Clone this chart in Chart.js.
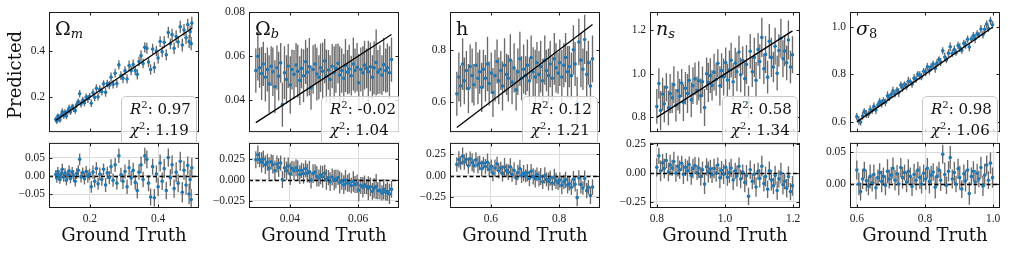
<!DOCTYPE html>
<html>
<head>
<meta charset="utf-8">
<script src="https://cdn.jsdelivr.net/npm/chart.js@4.4.1/dist/chart.umd.min.js"></script>
<style>
  body { margin: 0; background: #fff; }
  #wrap { position: relative; width: 1011px; height: 253px; overflow: hidden; font-family: "DejaVu Serif", serif; color: #111; }
  canvas { position: absolute; }
  .ttl { position: absolute; top: 19px; font-size: 19px; line-height: 19px; white-space: nowrap; }
  .ttl sub { font-size: 13px; vertical-align: -3px; line-height: 0; }
  .gt { position: absolute; top: 226px; width: 150px; text-align: center; font-size: 18px; line-height: 18px; white-space: nowrap; }
  .clip { position: absolute; top: 12px; width: 150px; height: 130px; overflow: hidden; }
  .stats { position: absolute; left: 72px; top: 84px; padding: 2px 5px 14px 8px; border: 1px solid #c8c8c8; border-radius: 5px; background: rgba(255,255,255,0.8); font-size: 15px; line-height: 21px; white-space: nowrap; }
  .stats sup { font-size: 10px; vertical-align: 6px; line-height: 0; }
  #ylab { position: absolute; left: -45px; top: 66px; width: 120px; text-align: center; font-size: 18px; line-height: 18px; transform: rotate(-90deg); }
</style>
</head>
<body>
<div id="wrap"></div>
<script>
// Omega_m
let omTruth = [0.100,0.103,0.106,0.109,0.112,0.116,0.119,0.123,0.127,0.131,
  0.135,0.139,0.143,0.148,0.152,0.157,0.161,0.166,0.170,0.174,
  0.179,0.184,0.189,0.194,0.199,0.204,0.209,0.214,0.219,0.224,
  0.229,0.235,0.240,0.246,0.251,0.257,0.262,0.268,0.274,0.279,
  0.285,0.291,0.297,0.303,0.309,0.315,0.321,0.327,0.333,0.339,
  0.344,0.350,0.356,0.361,0.367,0.372,0.378,0.384,0.389,0.395,
  0.400,0.406,0.412,0.418,0.424,0.430,0.436,0.441,0.447,0.453,
  0.459,0.465,0.471,0.476,0.482,0.487,0.491,0.494,0.497,0.499];
let omPred = [0.104,0.097,0.118,0.110,0.102,0.122,0.137,0.119,0.135,0.119,
  0.138,0.153,0.136,0.158,0.152,0.142,0.167,0.181,0.215,0.171,
  0.188,0.176,0.201,0.192,0.203,0.174,0.219,0.199,0.239,0.202,
  0.234,0.225,0.258,0.221,0.259,0.252,0.287,0.256,0.304,0.259,
  0.340,0.294,0.282,0.315,0.279,0.337,0.315,0.342,0.315,0.299,
  0.354,0.380,0.346,0.416,0.412,0.352,0.320,0.409,0.329,0.400,
  0.370,0.441,0.397,0.438,0.384,0.480,0.431,0.471,0.412,0.463,
  0.439,0.505,0.426,0.491,0.457,0.515,0.441,0.484,0.432,0.521];
let omErr = [0.012,0.013,0.012,0.014,0.012,0.013,0.015,0.012,0.013,0.014,
  0.013,0.015,0.013,0.014,0.016,0.014,0.015,0.014,0.016,0.015,
  0.014,0.016,0.015,0.017,0.015,0.016,0.018,0.016,0.017,0.016,
  0.018,0.017,0.016,0.019,0.017,0.018,0.020,0.018,0.019,0.018,
  0.020,0.019,0.021,0.019,0.020,0.022,0.020,0.021,0.020,0.022,
  0.021,0.023,0.021,0.022,0.024,0.022,0.023,0.022,0.024,0.023,
  0.025,0.023,0.024,0.026,0.024,0.025,0.023,0.026,0.025,0.027,
  0.025,0.026,0.028,0.026,0.027,0.025,0.028,0.027,0.029,0.027];

// Omega_b
let obTruth = [0.0300,0.0306,0.0311,0.0317,0.0322,0.0328,0.0334,0.0339,0.0345,0.0350,
  0.0356,0.0362,0.0367,0.0373,0.0378,0.0384,0.0390,0.0395,0.0401,0.0406,
  0.0412,0.0418,0.0423,0.0429,0.0434,0.0440,0.0446,0.0451,0.0457,0.0462,
  0.0468,0.0474,0.0479,0.0485,0.0490,0.0496,0.0502,0.0507,0.0513,0.0518,
  0.0524,0.0530,0.0535,0.0541,0.0546,0.0552,0.0558,0.0563,0.0569,0.0574,
  0.0580,0.0586,0.0591,0.0597,0.0602,0.0608,0.0614,0.0619,0.0625,0.0630,
  0.0636,0.0642,0.0647,0.0653,0.0658,0.0664,0.0670,0.0675,0.0681,0.0686,
  0.0692,0.0698];
let obPred = [0.0535,0.0600,0.0548,0.0522,0.0565,0.0505,0.0540,0.0475,0.0555,0.0530,
  0.0462,0.0548,0.0510,0.0570,0.0381,0.0525,0.0495,0.0556,0.0470,0.0540,
  0.0518,0.0560,0.0532,0.0490,0.0545,0.0512,0.0575,0.0528,0.0552,0.0458,
  0.0540,0.0565,0.0520,0.0505,0.0548,0.0532,0.0578,0.0510,0.0538,0.0495,
  0.0555,0.0525,0.0545,0.0568,0.0515,0.0535,0.0500,0.0558,0.0528,0.0542,
  0.0512,0.0565,0.0535,0.0550,0.0480,0.0540,0.0525,0.0560,0.0545,0.0530,
  0.0552,0.0505,0.0548,0.0572,0.0528,0.0540,0.0515,0.0562,0.0535,0.0548,
  0.0525,0.0585];
let obErr = [0.010,0.011,0.009,0.012,0.010,0.011,0.010,0.013,0.009,0.011,
  0.012,0.010,0.011,0.009,0.010,0.012,0.011,0.010,0.013,0.009,
  0.011,0.010,0.012,0.011,0.009,0.012,0.010,0.011,0.013,0.010,
  0.011,0.009,0.012,0.010,0.011,0.013,0.010,0.012,0.009,0.011,
  0.010,0.012,0.011,0.009,0.013,0.010,0.011,0.012,0.010,0.011,
  0.009,0.012,0.010,0.011,0.013,0.010,0.012,0.011,0.009,0.014,
  0.011,0.010,0.012,0.015,0.010,0.011,0.009,0.012,0.010,0.011,
  0.012,0.010];

// h
let hTruth = [0.500,0.506,0.511,0.517,0.522,0.528,0.534,0.539,0.545,0.550,
  0.556,0.562,0.567,0.573,0.578,0.584,0.590,0.595,0.601,0.606,
  0.612,0.618,0.623,0.629,0.634,0.640,0.646,0.651,0.657,0.662,
  0.668,0.674,0.679,0.685,0.690,0.696,0.702,0.707,0.713,0.718,
  0.724,0.730,0.735,0.741,0.746,0.752,0.758,0.763,0.769,0.774,
  0.780,0.786,0.791,0.797,0.802,0.808,0.814,0.819,0.825,0.830,
  0.836,0.842,0.847,0.853,0.858,0.864,0.870,0.875,0.881,0.886,
  0.892,0.898];
let hPred = [0.630,0.695,0.660,0.745,0.680,0.720,0.650,0.735,0.700,0.665,
  0.740,0.690,0.715,0.655,0.725,0.690,0.745,0.670,0.710,0.635,
  0.700,0.755,0.680,0.720,0.660,0.740,0.705,0.690,0.760,0.675,
  0.730,0.645,0.715,0.765,0.690,0.725,0.700,0.740,0.680,0.770,
  0.715,0.695,0.750,0.705,0.735,0.680,0.760,0.720,0.700,0.745,
  0.690,0.765,0.730,0.710,0.750,0.695,0.740,0.770,0.715,0.735,
  0.700,0.800,0.745,0.595,0.830,0.760,0.725,0.840,0.705,0.750,
  0.660,0.765];
let hErr = [0.085,0.095,0.080,0.100,0.090,0.075,0.095,0.085,0.105,0.080,
  0.090,0.100,0.085,0.095,0.075,0.090,0.105,0.085,0.080,0.095,
  0.100,0.085,0.090,0.075,0.095,0.105,0.080,0.090,0.100,0.085,
  0.095,0.080,0.090,0.105,0.085,0.095,0.075,0.100,0.090,0.085,
  0.095,0.105,0.080,0.090,0.100,0.085,0.095,0.080,0.105,0.090,
  0.085,0.100,0.095,0.080,0.090,0.105,0.085,0.095,0.100,0.080,
  0.090,0.095,0.085,0.100,0.090,0.105,0.080,0.095,0.090,0.085,
  0.100,0.090];

// n_s
let nsTruth = [0.800,0.806,0.811,0.817,0.822,0.828,0.834,0.839,0.845,0.850,
  0.856,0.862,0.867,0.873,0.878,0.884,0.890,0.895,0.901,0.906,
  0.912,0.918,0.923,0.929,0.934,0.940,0.946,0.951,0.957,0.962,
  0.968,0.974,0.979,0.985,0.990,0.996,1.002,1.007,1.013,1.018,
  1.024,1.030,1.035,1.041,1.046,1.052,1.058,1.063,1.069,1.074,
  1.080,1.086,1.091,1.097,1.102,1.108,1.114,1.119,1.125,1.130,
  1.136,1.142,1.147,1.153,1.158,1.164,1.170,1.175,1.181,1.186,
  1.192,1.198];
let nsPred = [0.850,0.956,0.831,0.907,0.862,0.938,0.844,0.909,0.890,0.950,
  0.856,0.922,0.897,0.958,0.868,0.934,0.910,0.970,0.881,0.946,
  0.977,0.923,0.968,0.899,0.964,0.845,1.001,0.961,0.992,0.947,
  1.008,0.974,1.049,0.945,1.015,0.986,1.052,0.972,1.018,1.063,
  0.964,1.050,1.010,1.101,0.996,1.062,0.978,1.043,0.869,1.104,
  1.010,1.076,0.971,1.112,1.057,1.168,1.024,1.089,0.985,1.150,
  1.076,1.032,1.127,1.003,1.108,1.164,1.070,1.105,1.051,1.156,
  1.032,1.088];
let nsErr = [0.080,0.070,0.090,0.075,0.085,0.065,0.080,0.090,0.070,0.085,
  0.075,0.090,0.080,0.065,0.085,0.075,0.090,0.070,0.080,0.085,
  0.075,0.065,0.090,0.080,0.070,0.085,0.075,0.090,0.080,0.070,
  0.085,0.075,0.065,0.090,0.080,0.085,0.070,0.075,0.090,0.080,
  0.085,0.070,0.090,0.075,0.080,0.065,0.085,0.090,0.075,0.080,
  0.070,0.090,0.085,0.075,0.080,0.090,0.070,0.085,0.075,0.080,
  0.090,0.070,0.085,0.080,0.075,0.090,0.085,0.070,0.080,0.090,
  0.075,0.085];

// sigma_8
let s8Truth = [0.600,0.606,0.611,0.617,0.622,0.628,0.634,0.639,0.645,0.650,
  0.656,0.662,0.667,0.673,0.678,0.684,0.690,0.695,0.701,0.706,
  0.712,0.718,0.723,0.729,0.734,0.740,0.746,0.751,0.757,0.762,
  0.768,0.774,0.779,0.785,0.790,0.796,0.802,0.807,0.813,0.818,
  0.824,0.830,0.835,0.841,0.846,0.852,0.858,0.863,0.869,0.874,
  0.880,0.886,0.891,0.897,0.902,0.908,0.914,0.919,0.925,0.930,
  0.936,0.942,0.947,0.953,0.958,0.964,0.970,0.975,0.981,0.986,
  0.992,0.998];
let s8Pred = [0.622,0.606,0.599,0.625,0.644,0.633,0.631,0.651,0.647,0.665,
  0.650,0.672,0.685,0.677,0.690,0.682,0.710,0.703,0.715,0.731,
  0.718,0.734,0.723,0.755,0.744,0.758,0.749,0.771,0.769,0.758,
  0.783,0.780,0.801,0.795,0.790,0.813,0.810,0.832,0.817,0.832,
  0.843,0.825,0.847,0.863,0.852,0.899,0.873,0.861,0.889,0.916,
  0.888,0.904,0.891,0.921,0.912,0.900,0.930,0.924,0.947,0.915,
  0.948,0.962,0.950,0.970,0.966,0.990,0.967,0.989,1.011,0.992,
  1.025,1.008];
let s8Err = [0.015,0.018,0.014,0.016,0.013,0.017,0.015,0.019,0.014,0.016,
  0.018,0.013,0.015,0.017,0.014,0.016,0.019,0.015,0.013,0.017,
  0.016,0.014,0.018,0.015,0.017,0.013,0.016,0.019,0.014,0.015,
  0.017,0.016,0.013,0.018,0.015,0.014,0.017,0.016,0.019,0.015,
  0.014,0.018,0.016,0.013,0.017,0.015,0.019,0.014,0.016,0.018,
  0.015,0.017,0.013,0.016,0.019,0.014,0.015,0.017,0.016,0.018,
  0.014,0.016,0.019,0.015,0.013,0.017,0.016,0.018,0.015,0.014,
  0.017,0.016];

// tick labels
let omXTicks = ['0.2', '0.4'], omYTicks = ['0.2', '0.4'], omResTicks = ['-0.05', '0.00', '0.05'];
let obXTicks = ['0.04', '0.06'], obYTicks = ['0.04', '0.06', '0.08'], obResTicks = ['-0.025', '0.000', '0.025'];
let hXTicks = ['0.6', '0.8'], hYTicks = ['0.6', '0.8'], hResTicks = ['-0.25', '0.00', '0.25'];
let nsXTicks = ['0.8', '1.0', '1.2'], nsYTicks = ['0.8', '1.0', '1.2'], nsResTicks = ['-0.25', '0.00', '0.25'];
let s8XTicks = ['0.6', '0.8', '1.0'], s8YTicks = ['0.6', '0.8', '1.0'], s8ResTicks = ['0.00', '0.05'];

let titles = ['\u03A9<sub><i>m</i></sub>', '\u03A9<sub><i>b</i></sub>', 'h', '<i>n</i><sub><i>s</i></sub>', '<i>\u03C3</i><sub>8</sub>'];
let r2Labels = ['0.97', '-0.02', '0.12', '0.58', '0.98'];
let chi2Labels = ['1.19', '1.04', '1.21', '1.34', '1.06'];

let wrap = document.querySelector("#wrap");
let lefts = [49, 249, 450, 650, 850];
let tickFont = { family: "Liberation Serif", size: 11.5 };

let panels = [
  { truth: omTruth, pred: omPred, err: omErr, xt: omXTicks, yt: omYTicks, rt: omResTicks, xr: [0.08, 0.52], yr: [0.049, 0.569], rr: [-0.088, 0.09] },
  { truth: obTruth, pred: obPred, err: obErr, xt: obXTicks, yt: obYTicks, rt: obResTicks, xr: [0.028, 0.072], yr: [0.0257, 0.08], rr: [-0.0333, 0.0434] },
  { truth: hTruth, pred: hPred, err: hErr, xt: hXTicks, yt: hYTicks, rt: hResTicks, xr: [0.48, 0.92], yr: [0.482, 0.946], rr: [-0.379, 0.383] },
  { truth: nsTruth, pred: nsPred, err: nsErr, xt: nsXTicks, yt: nsYTicks, rt: nsResTicks, xr: [0.78, 1.22], yr: [0.732, 1.285], rr: [-0.302, 0.262] },
  { truth: s8Truth, pred: s8Pred, err: s8Err, xt: s8XTicks, yt: s8YTicks, rt: s8ResTicks, xr: [0.58, 1.02], yr: [0.557, 1.062], rr: [-0.038, 0.065] },
];

function makeCanvas(left, top, w, h) {
  let c = document.createElement("canvas");
  c.width = w;
  c.height = h;
  c.style.left = left + "px";
  c.style.top = top + "px";
  wrap.appendChild(c);
  return c;
}

function addDiv(cls, html, left, top) {
  let d = document.createElement("div");
  d.className = cls;
  d.innerHTML = html;
  d.style.left = left + "px";
  if (top !== undefined) d.style.top = top + "px";
  wrap.appendChild(d);
  return d;
}

// axis with fixed ticks taken from the label arrays
function axis(range, labels, extra) {
  return Object.assign({
    type: "linear",
    min: range[0],
    max: range[1],
    afterBuildTicks: (s) => {
      s.ticks = labels.map((l) => ({ value: parseFloat(l) }));
    },
    grid: { display: false, drawTicks: false },
    border: { display: false },
    ticks: {
      font: tickFont,
      color: "#222",
      padding: 4,
      autoSkip: false,
      maxRotation: 0,
      callback: (v, i) => labels[i].replace("-", "\u2212"),
    },
  }, extra);
}

// error bars, zero line, frame and inward ticks
function makeFrame(xt, yt, ptsIndex, zero) {
  return {
    id: "frame",
    beforeDatasetsDraw(chart) {
      let { ctx, chartArea: a, scales: { x, y } } = chart;
      ctx.save();
      ctx.beginPath();
      ctx.rect(a.left, a.top, a.width, a.height);
      ctx.clip();
      ctx.strokeStyle = "#6a6a6a";
      ctx.lineWidth = 1.35;
      ctx.beginPath();
      chart.data.datasets[ptsIndex].data.forEach((d) => {
        let px = x.getPixelForValue(d.x);
        ctx.moveTo(px, y.getPixelForValue(d.y - d.e));
        ctx.lineTo(px, y.getPixelForValue(d.y + d.e));
      });
      ctx.stroke();
      if (zero) {
        let py = Math.round(y.getPixelForValue(0)) + 0.5;
        ctx.strokeStyle = "#000";
        ctx.lineWidth = 1.3;
        ctx.setLineDash([4, 2.5]);
        ctx.beginPath();
        ctx.moveTo(a.left, py);
        ctx.lineTo(a.right, py);
        ctx.stroke();
      }
      ctx.restore();
    },
    afterDraw(chart) {
      let { ctx, chartArea: a, scales: { x, y } } = chart;
      ctx.save();
      ctx.strokeStyle = "#1a1a1a";
      ctx.lineWidth = 1;
      ctx.strokeRect(a.left + 0.5, a.top + 0.5, a.width - 1, a.height - 1);
      ctx.beginPath();
      xt.forEach((s) => {
        let px = Math.round(x.getPixelForValue(parseFloat(s))) + 0.5;
        ctx.moveTo(px, a.bottom);
        ctx.lineTo(px, a.bottom - 3.5);
        ctx.moveTo(px, a.top);
        ctx.lineTo(px, a.top + 3.5);
      });
      yt.forEach((s) => {
        let py = Math.round(y.getPixelForValue(parseFloat(s))) + 0.5;
        ctx.moveTo(a.left, py);
        ctx.lineTo(a.left + 3.5, py);
        ctx.moveTo(a.right, py);
        ctx.lineTo(a.right - 3.5, py);
      });
      ctx.stroke();
      ctx.restore();
    },
  };
}

let base = {
  responsive: false,
  animation: false,
  devicePixelRatio: 1,
};

panels.forEach((p, i) => {
  let L = lefts[i];
  let tMin = Math.min(...p.truth);
  let tMax = Math.max(...p.truth);

  // Top: predicted vs truth
  new Chart(makeCanvas(L - 48, 0, 212, 143), {
    type: "scatter",
    data: {
      datasets: [
        {
          type: "line",
          data: [{ x: tMin, y: tMin }, { x: tMax, y: tMax }],
          borderColor: "#000",
          borderWidth: 1.3,
          pointRadius: 0,
          order: 0,
        },
        {
          data: p.truth.map((t, k) => ({ x: t, y: p.pred[k], e: p.err[k] })),
          backgroundColor: "#1f77b4",
          pointRadius: 1.8,
          borderWidth: 0,
          order: 1,
        },
      ],
    },
    options: Object.assign({}, base, {
      layout: { padding: { top: 12, right: 14, bottom: 1, left: 0 } },
      plugins: { legend: { display: false }, tooltip: { enabled: false } },
      scales: {
        x: axis(p.xr, p.xt, { display: false }),
        y: axis(p.yr, p.yt, { afterFit: (s) => { s.width = 48; } }),
      },
    }),
    plugins: [makeFrame(p.xt, p.yt, 1, false)],
  });

  // Bottom: residuals
  new Chart(makeCanvas(L - 48, 132, 212, 121), {
    type: "scatter",
    data: {
      datasets: [
        {
          data: p.truth.map((t, k) => ({ x: t, y: p.pred[k] - t, e: p.err[k] })),
          backgroundColor: "#1f77b4",
          pointRadius: 1.8,
          borderWidth: 0,
        },
      ],
    },
    options: Object.assign({}, base, {
      layout: { padding: { top: 10, right: 14, bottom: 25, left: 0 } },
      plugins: { legend: { display: false }, tooltip: { enabled: false } },
      scales: {
        x: axis(p.xr, p.xt, {
          afterFit: (s) => { s.height = 20; },
          grid: { color: "#dcdcdc", drawTicks: false },
        }),
        y: axis(p.rr, p.rt, {
          afterFit: (s) => { s.width = 48; },
          grid: { color: "#dcdcdc", drawTicks: false },
        }),
      },
    }),
    plugins: [makeFrame(p.xt, p.rt, 0, true)],
  });

  // stats box, clipped at the bottom of the top panel
  let clip = addDiv("clip", "", L);
  let box = document.createElement("div");
  box.className = "stats";
  box.innerHTML = "<i>R</i><sup>2</sup>: " + r2Labels[i] + "<br><i>\u03C7</i><sup>2</sup>: " + chi2Labels[i];
  clip.appendChild(box);

  addDiv("ttl", titles[i], L + 6);
  addDiv("gt", "Ground Truth", L);
});

let ylab = document.createElement("div");
ylab.id = "ylab";
ylab.textContent = "Predicted";
wrap.appendChild(ylab);
</script>
</body>
</html>
